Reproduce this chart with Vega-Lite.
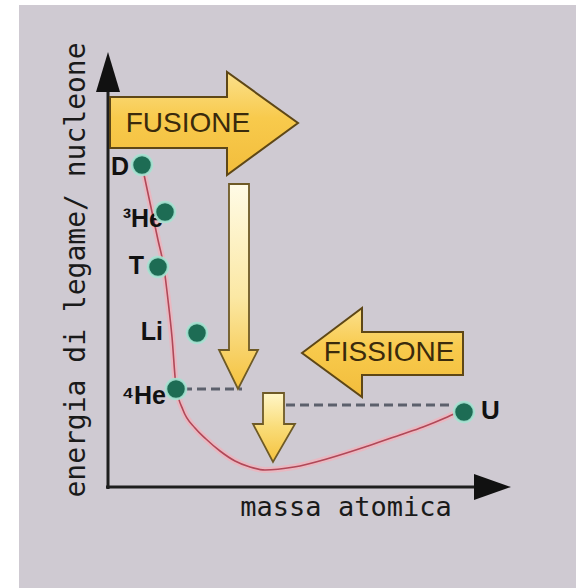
{
  "$schema": "https://vega.github.io/schema/vega-lite/v6.json",
  "autosize": {"type": "fit", "contains": "padding"},
  "width": 576,
  "height": 588,
  "padding": 0,
  "background": "white",
  "config": {"view": {"stroke": null}},
  "datasets": {
    "bg": [{"x": 19, "x2": 576, "y": 5, "y2": 588}],
    "curve": [
      {"x": 142, "y": 165}, {"x": 146, "y": 184}, {"x": 152, "y": 212}, {"x": 158, "y": 240},
      {"x": 164, "y": 268}, {"x": 168, "y": 300}, {"x": 172, "y": 337}, {"x": 176, "y": 386},
      {"x": 183, "y": 410}, {"x": 195, "y": 428}, {"x": 206, "y": 439}, {"x": 220, "y": 451},
      {"x": 235, "y": 461}, {"x": 250, "y": 467}, {"x": 265, "y": 470}, {"x": 294, "y": 467},
      {"x": 330, "y": 458}, {"x": 368, "y": 446}, {"x": 400, "y": 435}, {"x": 423, "y": 427},
      {"x": 445, "y": 418}, {"x": 458, "y": 412}
    ],
    "dash": [{"x": 183, "x2": 242, "y": 389}, {"x": 286, "x2": 452, "y": 405}],
    "axes": [{"x": 108, "x2": 108, "y": 70, "y2": 489}, {"x": 106, "x2": 480, "y": 487, "y2": 487}],
    "fusione": [
      {"x": 110, "y": 97, "y2": 148},
      {"x": 227, "y": 97, "y2": 148},
      {"x": 227, "y": 72, "y2": 175},
      {"x": 298, "y": 123, "y2": 123}
    ],
    "fissione": [
      {"x": 302, "y": 353, "y2": 353},
      {"x": 362, "y": 308, "y2": 397},
      {"x": 362, "y": 332, "y2": 375},
      {"x": 463, "y": 332, "y2": 375}
    ],
    "xhead": [
      {"x": 474, "y": 474, "y2": 500},
      {"x": 511, "y": 487, "y2": 487}
    ],
    "longarrow": [
      {"y": 184, "x": 229, "x2": 249},
      {"y": 350, "x": 229, "x2": 249},
      {"y": 350, "x": 219, "x2": 258},
      {"y": 389, "x": 238, "x2": 238}
    ],
    "shortarrow": [
      {"y": 393, "x": 263, "x2": 284},
      {"y": 424, "x": 263, "x2": 284},
      {"y": 424, "x": 253, "x2": 295},
      {"y": 462, "x": 273, "x2": 273}
    ],
    "yhead": [
      {"y": 52, "x": 108, "x2": 108},
      {"y": 92, "x": 96, "x2": 120}
    ],
    "pts": [
      {"name": "D", "x": 142, "y": 165},
      {"name": "3He", "x": 165, "y": 212},
      {"name": "T", "x": 158, "y": 267},
      {"name": "Li", "x": 197, "y": 333},
      {"name": "4He", "x": 176, "y": 389},
      {"name": "U", "x": 464, "y": 412}
    ],
    "labels": [
      {"t": "D", "x": 129, "y": 167},
      {"t": "³He", "x": 163, "y": 219},
      {"t": "T", "x": 144, "y": 266},
      {"t": "Li", "x": 163, "y": 332},
      {"t": "⁴He", "x": 166, "y": 396}
    ],
    "ulabel": [{"t": "U", "x": 481, "y": 411}],
    "arrowtext": [{"t": "FUSIONE", "x": 188, "y": 124}, {"t": "FISSIONE", "x": 389, "y": 353}],
    "xtitle": [{"t": "massa atomica", "x": 346, "y": 508}],
    "ytitle": [{"t": "energia di legame/ nucleone", "x": 77, "y": 270}]
  },
  "encoding": {
    "x": {"field": "x", "type": "quantitative", "scale": {"domain": [0, 576], "nice": false, "zero": false}, "axis": null},
    "y": {"field": "y", "type": "quantitative", "scale": {"domain": [0, 588], "nice": false, "zero": false, "reverse": true}, "axis": null}
  },
  "layer": [
    {
      "data": {"name": "bg"},
      "mark": {"type": "rect", "fill": "#cfcad2"},
      "encoding": {"x2": {"field": "x2"}, "y2": {"field": "y2"}}
    },
    {
      "data": {"name": "xtitle"},
      "mark": {"type": "text", "font": "DejaVu Sans Mono", "fontSize": 27, "align": "center", "baseline": "middle", "fill": "#1a1a1a"},
      "encoding": {"text": {"field": "t"}}
    },
    {
      "data": {"name": "ytitle"},
      "mark": {"type": "text", "font": "DejaVu Sans Mono", "fontSize": 28, "angle": 270, "align": "center", "baseline": "middle", "fill": "#1a1a1a"},
      "encoding": {"text": {"field": "t"}}
    },
    {
      "data": {"name": "curve"},
      "mark": {"type": "line", "interpolate": "monotone", "stroke": "#efb3bd", "strokeWidth": 6, "opacity": 0.8},
      "encoding": {}
    },
    {
      "data": {"name": "curve"},
      "mark": {"type": "line", "interpolate": "monotone", "stroke": "#b04858", "strokeWidth": 1.6},
      "encoding": {}
    },
    {
      "data": {"name": "dash"},
      "mark": {"type": "rule", "stroke": "#5c606c", "strokeWidth": 3, "strokeDash": [9, 5]},
      "encoding": {"x2": {"field": "x2"}}
    },
    {
      "data": {"name": "axes"},
      "mark": {"type": "rule", "stroke": "#1e1e1e", "strokeWidth": 3},
      "encoding": {"x2": {"field": "x2"}, "y2": {"field": "y2"}}
    },
    {
      "data": {"name": "xhead"},
      "mark": {"type": "area", "orient": "vertical", "fill": "#111111", "fillOpacity": 1},
      "encoding": {"y2": {"field": "y2"}}
    },
    {
      "data": {"name": "yhead"},
      "mark": {"type": "area", "orient": "horizontal", "fill": "#111111", "fillOpacity": 1},
      "encoding": {"x2": {"field": "x2"}}
    },
    {
      "data": {"name": "fusione"},
      "mark": {
        "type": "area", "orient": "vertical", "fillOpacity": 1,
        "fill": {"gradient": "linear", "x1": 0, "y1": 0, "x2": 0, "y2": 1, "stops": [
          {"offset": 0, "color": "#fbe08c"}, {"offset": 0.45, "color": "#f8ca4c"}, {"offset": 1, "color": "#f2bd3c"}
        ]},
        "stroke": "#5e4716", "strokeWidth": 2, "strokeJoin": "miter"
      },
      "encoding": {"y2": {"field": "y2"}}
    },
    {
      "data": {"name": "fissione"},
      "mark": {
        "type": "area", "orient": "vertical", "fillOpacity": 1,
        "fill": {"gradient": "linear", "x1": 0, "y1": 0, "x2": 0, "y2": 1, "stops": [
          {"offset": 0, "color": "#fbe08c"}, {"offset": 0.45, "color": "#f8ca4c"}, {"offset": 1, "color": "#f2bd3c"}
        ]},
        "stroke": "#5e4716", "strokeWidth": 2, "strokeJoin": "miter"
      },
      "encoding": {"y2": {"field": "y2"}}
    },
    {
      "data": {"name": "longarrow"},
      "mark": {
        "type": "area", "orient": "horizontal", "fillOpacity": 1,
        "fill": {"gradient": "linear", "x1": 0, "y1": 0, "x2": 0, "y2": 1, "stops": [
          {"offset": 0, "color": "#fffbe6"}, {"offset": 0.55, "color": "#fbe8a4"}, {"offset": 1, "color": "#f5c23e"}
        ]},
        "stroke": "#6e5a26", "strokeWidth": 1.8, "strokeJoin": "miter"
      },
      "encoding": {"x2": {"field": "x2"}}
    },
    {
      "data": {"name": "shortarrow"},
      "mark": {
        "type": "area", "orient": "horizontal", "fillOpacity": 1,
        "fill": {"gradient": "linear", "x1": 0, "y1": 0, "x2": 0, "y2": 1, "stops": [
          {"offset": 0, "color": "#fff6c8"}, {"offset": 0.5, "color": "#f9dc78"}, {"offset": 1, "color": "#f5c23e"}
        ]},
        "stroke": "#6e5a26", "strokeWidth": 1.8, "strokeJoin": "miter"
      },
      "encoding": {"x2": {"field": "x2"}}
    },
    {
      "data": {"name": "arrowtext"},
      "mark": {"type": "text", "font": "Liberation Sans", "fontSize": 28, "align": "center", "baseline": "middle", "fill": "#3a2a0c"},
      "encoding": {"text": {"field": "t"}}
    },
    {
      "data": {"name": "labels"},
      "mark": {"type": "text", "font": "Liberation Sans", "fontSize": 25, "fontWeight": "bold", "align": "right", "baseline": "middle", "fill": "#111111"},
      "encoding": {"text": {"field": "t"}}
    },
    {
      "data": {"name": "ulabel"},
      "mark": {"type": "text", "font": "Liberation Sans", "fontSize": 26, "fontWeight": "bold", "align": "left", "baseline": "middle", "fill": "#111111"},
      "encoding": {"text": {"field": "t"}}
    },
    {
      "data": {"name": "pts"},
      "mark": {"type": "point", "shape": "circle", "filled": true, "size": 400, "fill": "#1d6c54", "fillOpacity": 1, "stroke": "#a6e2d2", "strokeWidth": 2.5, "strokeOpacity": 0.9},
      "encoding": {}
    }
  ]
}
